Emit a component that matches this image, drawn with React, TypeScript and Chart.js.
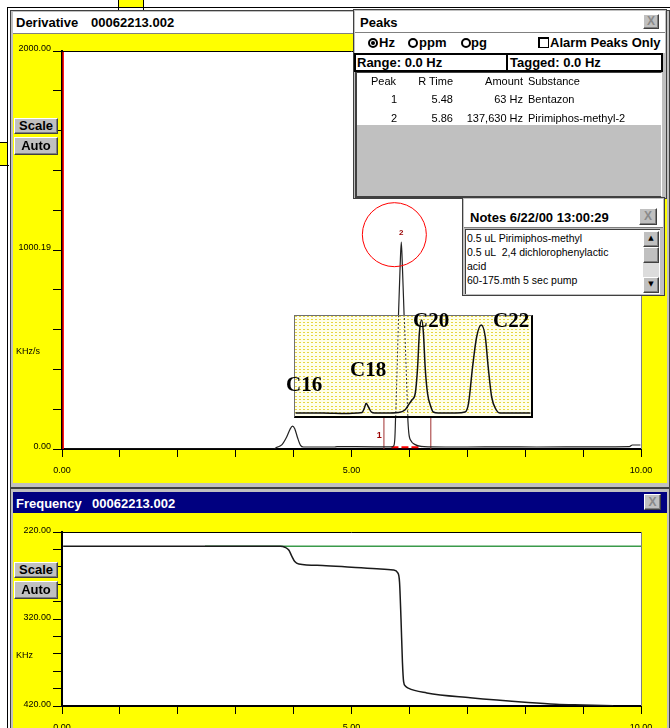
import React, { useEffect, useRef } from 'react';
import { Chart, registerables } from 'chart.js';

Chart.register(...registerables);

// ---------------- data ----------------
// Derivative trace: time (min) and KHz/s
const derivTime = [0.05, 3.65, 3.71, 3.80, 3.88, 3.94, 3.98, 4.02, 4.07, 4.12, 4.17, 4.70, 4.75, 5.40, 5.70, 5.73, 5.75, 5.77, 5.79, 5.81, 5.84, 5.86, 5.88, 5.91, 5.94, 5.97, 5.99, 6.03, 6.10, 6.20, 6.35, 7.00, 7.60, 8.20, 9.20, 9.80, 9.85, 9.99];
const derivValue = [0, 0, 8, 22, 60, 100, 115, 102, 55, 18, 10, 10, 12, 11, 11, 16, 60, 250, 450, 660, 920, 1040, 910, 660, 420, 170, 80, 40, 22, 13, 11, 10, 11, 10, 11, 12, 20, 20];

// Frequency trace: time (min) and KHz
const freqTime = [0.02, 3.77, 3.85, 3.92, 3.97, 4.02, 4.09, 4.50, 5.00, 5.50, 5.72, 5.80, 5.83, 5.855, 5.88, 5.90, 5.93, 5.98, 6.30, 7.05, 8.05, 8.53, 9.00, 9.52];
const freqValue = [236.5, 236.5, 237.5, 241, 248, 254, 256.8, 258.5, 260.5, 262.5, 263.7, 267, 278, 320, 370, 392, 397, 399.5, 405, 410.5, 416, 418, 418.8, 419.6];

// Green reference line (frequency panel)
const refLineTime = [2.47, 10.0];
const refLineValue = [236.5, 236.5];

// Red start marker (derivative panel)
const startMarkerTime = [0.02, 0.02];
const startMarkerValue = [0, 2000];

// Tagged range markers
const tagTimes = [5.56, 6.37];
const tagTop = 195;
const tagBaseTime = [5.69, 6.21];
const tagBaseValue = [9, 9];

// Peaks table
const peakNumbers = [1, 2];
const peakRT = [5.48, 5.86];
const peakAmount = ['63 Hz', '137,630 Hz'];
const peakSubstance = ['Bentazon', 'Pirimiphos-methyl-2'];
const peakLabelValue = [70, 1088];

// Circle marker around peak 2
const circleTime = [5.74];
const circleValue = [1077];

// Inset chromatogram (alkane standards), relative %
const insetTime = [4.03, 4.50, 4.90, 5.10, 5.18, 5.22, 5.25, 5.29, 5.34, 5.40, 5.60, 5.80, 5.92, 5.98, 6.04, 6.10, 6.14, 6.17, 6.21, 6.24, 6.27, 6.31, 6.37, 6.41, 6.50, 6.80, 6.96, 7.02, 7.09, 7.16, 7.24, 7.31, 7.36, 7.42, 7.50, 7.56, 8.09];
const insetValue = [3, 3, 2.5, 3, 3.5, 8, 12.7, 9, 4, 3, 3, 3.5, 6, 11, 16, 23, 49, 83, 96, 83, 49, 23, 9, 4, 3, 3, 4, 12.7, 49, 79, 91, 79, 49, 19, 6, 3, 3];
const insetLabels = ['C16', 'C18', 'C20', 'C22'];

// Tick labels
const xTickValues = [0, 5, 10];
const xTickLabels = ['0.00', '5.00', '10.00'];
const derivYTickValues = [0, 1000, 2000];
const derivYTickLabels = ['0.00', '1000.19', '2000.00'];
const freqYTickValues = [220, 320, 420];
const freqYTickLabels = ['220.00', '320.00', '420.00'];

// Notes
const notesTitle = 'Notes 6/22/00 13:00:29';
const notesLines = ['0.5 uL Pirimiphos-methyl', '0.5 uL  2,4 dichlorophenylactic', 'acid', '60-175.mth 5 sec pump'];

// ---------------- helpers ----------------
const SANS = '"Liberation Sans", Arial, sans-serif';
const SERIF = '"Liberation Serif", "Times New Roman", serif';

const pts = (xs: number[], ys: number[]) => xs.map((x, i) => ({ x, y: ys[i] }));
const pick = (vals: number[], labels: string[]) => (v: any) => {
  const i = vals.indexOf(Number(v));
  return i >= 0 ? labels[i] : '';
};

function panelPlugin(canvasColor: string, areaColor: string, frame: boolean) {
  return {
    id: 'panel',
    beforeDraw(chart: any) {
      const { ctx, chartArea: a, width, height } = chart;
      ctx.save();
      ctx.fillStyle = canvasColor;
      ctx.fillRect(0, 0, width, height);
      ctx.fillStyle = areaColor;
      ctx.fillRect(a.left, a.top, a.right - a.left, a.bottom - a.top);
      ctx.restore();
    },
    afterDraw(chart: any) {
      if (!frame) return;
      const { ctx, chartArea: a } = chart;
      ctx.save();
      ctx.lineWidth = 1;
      ctx.strokeStyle = '#000';
      ctx.beginPath();
      ctx.moveTo(a.left, a.top + 0.5);
      ctx.lineTo(a.right, a.top + 0.5);
      ctx.stroke();
      ctx.strokeStyle = '#808080';
      ctx.beginPath();
      ctx.moveTo(a.right + 0.5, a.top);
      ctx.lineTo(a.right + 0.5, a.bottom);
      ctx.stroke();
      ctx.restore();
    },
  };
}

const peakLabelPlugin = {
  id: 'peakLabels',
  afterDatasetsDraw(chart: any) {
    const { ctx, scales } = chart;
    ctx.save();
    ctx.fillStyle = '#990000';
    ctx.textAlign = 'center';
    ctx.textBaseline = 'middle';
    peakNumbers.forEach((n, i) => {
      ctx.font = `bold ${i === 0 ? 9 : 8}px ${SANS}`;
      ctx.fillText(String(n), scales.x.getPixelForValue(peakRT[i]), scales.y.getPixelForValue(peakLabelValue[i]));
    });
    ctx.restore();
  },
};

const tickFont = { family: SANS, size: 9 };

function timeAxis(height: number) {
  return {
    type: 'linear',
    min: 0,
    max: 10,
    ticks: { stepSize: 1, autoSkip: false, maxRotation: 0, padding: 8, color: '#000', font: tickFont, callback: pick(xTickValues, xTickLabels) },
    grid: { drawOnChartArea: false, drawTicks: true, tickLength: 8, tickColor: '#000', tickWidth: 1 },
    border: { display: true, color: '#000', width: 2 },
    afterFit: (s: any) => { s.height = height; },
  };
}

function valueAxis(min: number, max: number, step: number, vals: number[], labels: string[], reverse: boolean, offset: number) {
  return {
    type: 'linear',
    min,
    max,
    reverse,
    ticks: { stepSize: step, autoSkip: false, padding: 2, labelOffset: offset, color: '#000', font: tickFont, callback: pick(vals, labels) },
    grid: { drawOnChartArea: false, drawTicks: true, tickLength: 9, tickColor: '#000', tickWidth: 1 },
    border: { display: true, color: '#000', width: 2 },
    afterFit: (s: any) => { s.width = 49; },
  };
}

const baseOptions = {
  responsive: false,
  animation: false,
  events: [],
  devicePixelRatio: 1,
  plugins: { legend: { display: false }, tooltip: { enabled: false } },
};

// ---------------- UI bits ----------------
const box = (l: number, t: number, w: number, h: number, extra: any = {}): any => ({
  position: 'absolute', left: l, top: t, width: w, height: h, boxSizing: 'border-box', ...extra,
});

function T({ x, cy, size = 13, bold = true, color = '#000', right = false, family = SANS, children }: any) {
  const lh = Math.round(size * 1.3);
  const style: any = {
    position: 'absolute', top: cy - lh / 2, lineHeight: `${lh}px`, fontSize: size, fontFamily: family,
    fontWeight: bold ? 700 : 400, color, whiteSpace: 'pre',
  };
  if (right) { style.left = x - 300; style.width = 300; style.textAlign = 'right'; } else { style.left = x; }
  return <div style={style}>{children}</div>;
}

const raised = {
  background: '#c0c0c0', borderTop: '1px solid #fff', borderLeft: '1px solid #fff',
  borderRight: '1px solid #404040', borderBottom: '1px solid #404040', boxShadow: 'inset -1px -1px 0 #808080',
};

function Btn({ l, t, w, h, label }: any) {
  return (
    <div style={box(l, t, w, h, { ...raised, fontFamily: SANS, fontWeight: 700, fontSize: 13, lineHeight: `${h - 3}px`, textAlign: 'center', color: '#000' })}>{label}</div>
  );
}

function CloseBtn({ l, t, w, h }: any) {
  return (
    <div style={box(l, t, w, h, { ...raised, fontFamily: SANS, fontWeight: 700, fontSize: 12, lineHeight: `${h - 2}px`, textAlign: 'center', color: '#8a8a8a' })}>X</div>
  );
}

function Radio({ cx, cy, on }: any) {
  return (
    <div style={box(cx - 5, cy - 5, 10, 10, { border: '2px solid #000', borderRadius: '50%', background: '#fff' })}>
      {on ? <div style={box(1, 1, 4, 4, { background: '#000', borderRadius: '50%' })} /> : null}
    </div>
  );
}

export default function App() {
  const derivRef = useRef<HTMLCanvasElement>(null);
  const freqRef = useRef<HTMLCanvasElement>(null);
  const insetRef = useRef<HTMLCanvasElement>(null);

  useEffect(() => {
    Chart.defaults.font.family = SANS;
    const charts: any[] = [];

    const tagData: any[] = [];
    tagTimes.forEach((t) => { tagData.push({ x: t, y: 0 }, { x: t, y: tagTop }, { x: t + 0.001, y: null }); });

    if (derivRef.current) {
      charts.push(new Chart(derivRef.current, {
        type: 'line',
        data: {
          datasets: [
            { data: pts(circleTime, circleValue), showLine: false, pointRadius: 32, pointHoverRadius: 32, pointBorderColor: '#ff0000', pointBackgroundColor: 'rgba(0,0,0,0)', pointBorderWidth: 1 },
            { data: pts(derivTime, derivValue), borderColor: '#222', borderWidth: 1.2, pointRadius: 0, cubicInterpolationMode: 'monotone' },
            { data: pts(tagBaseTime, tagBaseValue), borderColor: '#ff0000', borderWidth: 2, borderDash: [7, 3], pointRadius: 0 },
            { data: tagData, borderColor: '#a03030', borderWidth: 1, pointRadius: 0, spanGaps: false },
            { data: pts(startMarkerTime, startMarkerValue), borderColor: '#ff0000', borderWidth: 1.5, pointRadius: 0 },
          ],
        } as any,
        options: {
          ...baseOptions,
          layout: { autoPadding: false, padding: { top: 17, right: 26, left: 0, bottom: 0 } },
          scales: {
            x: timeAxis(34),
            y: valueAxis(0, 2000, 200, derivYTickValues, derivYTickLabels, false, -2),
          },
        } as any,
        plugins: [panelPlugin('#ffff00', '#ffffff', true), peakLabelPlugin],
      }));
    }

    if (freqRef.current) {
      charts.push(new Chart(freqRef.current, {
        type: 'line',
        data: {
          datasets: [
            { data: pts(freqTime, freqValue), borderColor: '#1a1a1a', borderWidth: 1.5, pointRadius: 0, cubicInterpolationMode: 'monotone' },
            { data: pts(refLineTime, refLineValue), borderColor: '#3a9a4a', borderWidth: 1.5, pointRadius: 0 },
          ],
        } as any,
        options: {
          ...baseOptions,
          layout: { autoPadding: false, padding: { top: 19, right: 26, left: 0, bottom: 0 } },
          scales: {
            x: timeAxis(22),
            y: valueAxis(220, 420, 20, freqYTickValues, freqYTickLabels, true, -1),
          },
        } as any,
        plugins: [panelPlugin('#ffff00', '#ffffff', true)],
      }));
    }

    if (insetRef.current) {
      charts.push(new Chart(insetRef.current, {
        type: 'line',
        data: {
          datasets: [
            { data: pts(insetTime, insetValue), borderColor: '#111', borderWidth: 1.5, pointRadius: 0, cubicInterpolationMode: 'monotone', yAxisID: 'y' },
            { data: pts(derivTime, derivValue), borderColor: '#333', borderWidth: 1, borderDash: [2, 2], pointRadius: 0, cubicInterpolationMode: 'monotone', yAxisID: 'yMain' },
          ],
        } as any,
        options: {
          ...baseOptions,
          layout: { autoPadding: false, padding: 0 },
          scales: {
            x: { type: 'linear', min: 4.02, max: 8.10, display: false },
            yHatch: {
              type: 'linear', position: 'left', min: 0, max: 30,
              ticks: { stepSize: 1, display: false },
              grid: { color: '#e6d640', drawTicks: false, lineWidth: 1 },
              border: { display: false, dash: [2, 2] },
              afterFit: (s: any) => { s.width = 0; },
            },
            y: { type: 'linear', min: 0, max: 100, display: false },
            yMain: { type: 'linear', min: 165, max: 667, display: false },
          },
        } as any,
        plugins: [panelPlugin('#ffffea', '#ffffea', false)],
      }));
    }

    return () => { charts.forEach((c) => c.destroy()); };
  }, []);

  const rowCy = [99, 117.5];

  return (
    <div style={{ position: 'fixed', left: 0, top: 0, width: 670, height: 728, overflow: 'hidden', background: '#fff' }}>
      {/* fragments of windows behind */}
      <div style={box(119, 0, 24, 8, { background: '#ffff00' })} />
      <div style={box(118, 0, 1, 10, { background: '#000' })} />
      <div style={box(143, 0, 1, 10, { background: '#000' })} />
      <div style={box(7, 7, 663, 1, { background: '#000' })} />
      <div style={box(7, 7, 1, 721, { background: '#000' })} />
      <div style={box(0, 142, 7, 23, { background: '#ffff00' })} />
      <div style={box(0, 142, 7, 1, { background: '#000' })} />
      <div style={box(0, 165, 9, 1, { background: '#000' })} />

      {/* Derivative window */}
      <div style={box(10, 10, 660, 478, { background: '#c0c0c0', border: '1px solid #404040' })} />
      <div style={box(13, 12, 654, 22, { background: '#fff', borderBottom: '1px solid #808080' })} />
      <T x={16} cy={22.5}>Derivative</T>
      <T x={91} cy={22.5}>00062213.002</T>
      <canvas ref={derivRef} width={654} height={449} style={{ position: 'absolute', left: 13, top: 34 }} />
      <Btn l={14} t={118} w={44} h={16} label="Scale" />
      <Btn l={14} t={137} w={44} h={18} label="Auto" />
      <T x={16} cy={351} size={9} bold={false}>KHz/s</T>

      {/* inset chromatogram */}
      <div style={box(294, 315, 239, 103, { borderLeft: '1px solid #707070', borderTop: '1px solid #707070', borderRight: '2px solid #000', borderBottom: '2px solid #000' })}>
        <canvas ref={insetRef} width={236} height={100} style={{ display: 'block' }} />
      </div>
      <T x={286} cy={384} size={21} family={SERIF}>{insetLabels[0]}</T>
      <T x={350} cy={369} size={21} family={SERIF}>{insetLabels[1]}</T>
      <T x={413} cy={320} size={21} family={SERIF}>{insetLabels[2]}</T>
      <T x={493} cy={320} size={21} family={SERIF}>{insetLabels[3]}</T>

      {/* Peaks window */}
      <div style={box(353, 9, 314, 190, { background: '#c0c0c0', border: '1px solid #404040' })} />
      <div style={box(355, 11, 310, 22, { background: '#fff', borderBottom: '1px solid #808080' })} />
      <T x={360} cy={22.5}>Peaks</T>
      <CloseBtn l={643} t={14} w={16} h={15} />
      <div style={box(355, 33, 310, 20, { background: '#fff' })} />
      <Radio cx={372.5} cy={42.5} on />
      <T x={379} cy={42.5}>Hz</T>
      <Radio cx={413} cy={42.5} />
      <T x={419} cy={42.5}>ppm</T>
      <Radio cx={465.5} cy={42.5} />
      <T x={471} cy={42.5}>pg</T>
      <div style={box(538, 37, 11, 11, { border: '1px solid #000', boxShadow: 'inset 1px 1px 0 #000', background: '#fff' })} />
      <T x={550} cy={42.5}>Alarm Peaks Only</T>
      <div style={box(354, 53, 309, 19, { background: '#fff', border: '2px solid #000' })} />
      <div style={box(506, 53, 2, 19, { background: '#000' })} />
      <T x={357} cy={62.5}>Range: 0.0 Hz</T>
      <T x={510} cy={62.5}>Tagged: 0.0 Hz</T>
      <div style={box(355, 72, 307, 126, { background: '#c0c0c0', borderLeft: '2px solid #404040', borderTop: '1px solid #404040', borderRight: '1px solid #fff', borderBottom: '2px solid #404040' })} />
      <div style={box(357, 73, 304, 52, { background: '#fff' })} />
      <T x={396} cy={81} size={11} bold={false} right>Peak</T>
      <T x={453} cy={81} size={11} bold={false} right>R Time</T>
      <T x={523} cy={81} size={11} bold={false} right>Amount</T>
      <T x={528} cy={81} size={11} bold={false}>Substance</T>
      {peakNumbers.map((n, i) => (
        <React.Fragment key={n}>
          <T x={397} cy={rowCy[i]} size={11} bold={false} right>{String(n)}</T>
          <T x={453} cy={rowCy[i]} size={11} bold={false} right>{peakRT[i].toFixed(2)}</T>
          <T x={523} cy={rowCy[i]} size={11} bold={false} right>{peakAmount[i]}</T>
          <T x={528} cy={rowCy[i]} size={11} bold={false}>{peakSubstance[i]}</T>
        </React.Fragment>
      ))}

      {/* Notes window */}
      <div style={box(462, 197, 203, 99, { background: '#c0c0c0', border: '1px solid #404040' })} />
      <div style={box(464, 199, 199, 29, { background: '#fff', borderBottom: '1px solid #808080' })} />
      <T x={470} cy={217}>{notesTitle}</T>
      <CloseBtn l={639} t={208} w={18} h={17} />
      <div style={box(465, 229, 195, 65, { background: '#fff', borderTop: '1px solid #404040', borderLeft: '1px solid #404040' })} />
      {notesLines.map((line, i) => (
        <T key={i} x={467} cy={237.7 + i * 14.1} size={10.5} bold={false}>{line}</T>
      ))}
      <div style={box(643, 231, 16, 62, { background: '#dcdcdc' })} />
      <div style={box(643, 231, 16, 16, { ...raised, fontSize: 7, lineHeight: '13px', textAlign: 'center', color: '#000', fontFamily: '"DejaVu Sans", sans-serif' })}>▲</div>
      <div style={box(643, 247, 16, 16, { ...raised })} />
      <div style={box(643, 277, 16, 16, { ...raised, fontSize: 7, lineHeight: '13px', textAlign: 'center', color: '#000', fontFamily: '"DejaVu Sans", sans-serif' })}>▼</div>

      {/* Frequency window */}
      <div style={box(10, 488, 660, 250, { background: '#c0c0c0', border: '1px solid #404040' })} />
      <div style={box(13, 492, 654, 21, { background: '#000080' })} />
      <T x={16} cy={503} color="#fff">Frequency</T>
      <T x={92} cy={503} color="#fff">00062213.002</T>
      <CloseBtn l={644} t={494} w={17} h={16} />
      <canvas ref={freqRef} width={654} height={215} style={{ position: 'absolute', left: 13, top: 513 }} />
      <Btn l={14} t={562} w={44} h={16} label="Scale" />
      <Btn l={14} t={581} w={44} h={18} label="Auto" />
      <T x={16} cy={655} size={9} bold={false}>KHz</T>
    </div>
  );
}
